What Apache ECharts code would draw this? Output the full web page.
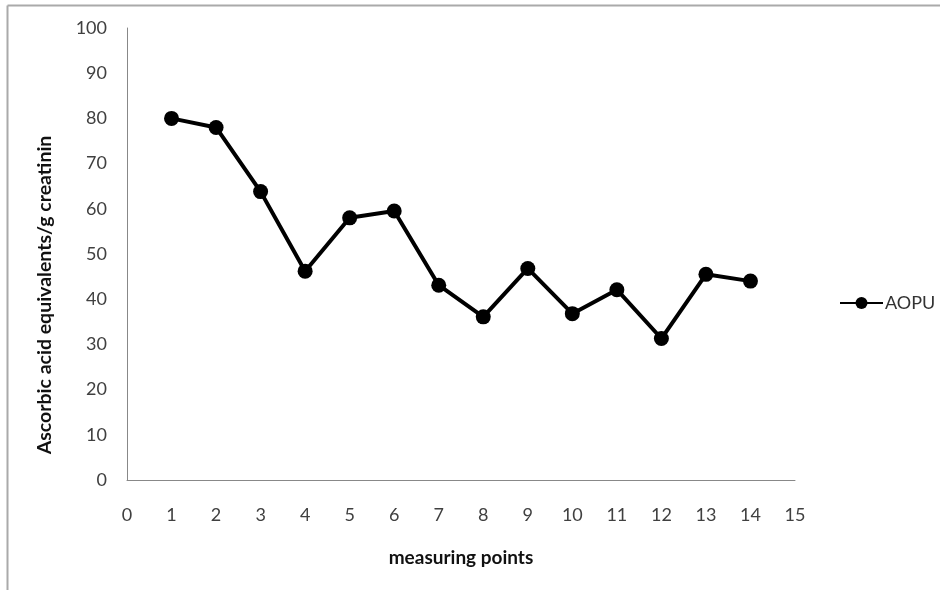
<!DOCTYPE html>
<html>
<head>
<meta charset="utf-8">
<script src="https://cdn.jsdelivr.net/npm/echarts@6/dist/echarts.min.js"></script>
<style>
html,body{margin:0;padding:0;background:#fff;}
#c{width:940px;height:590px;}
</style>
</head>
<body>
<div id="c"></div>
<script>
var seriesName = 'AOPU';
var xValues = [1,2,3,4,5,6,7,8,9,10,11,12,13,14];
var aopu = [80,78,63.8,46.2,58,59.5,43.1,36.1,46.8,36.8,42.1,31.3,45.5,44];
var xTitle = 'measuring points';
var yTitle = 'Ascorbic acid equivalents/g creatinin';

var FONT = 'Lato';
var chart = echarts.init(document.getElementById('c'), null, {renderer:'canvas'});
chart.setOption({
  backgroundColor:'#fff',
  animation:false,
  textStyle:{fontFamily:FONT},
  grid:{left:127,right:145,top:28,bottom:110,containLabel:false},
  legend:{
    data:[seriesName], left:834, top:289, orient:'vertical',
    itemWidth:43, itemHeight:15, itemGap:4,
    textStyle:{fontFamily:FONT,fontSize:18,color:'#333',padding:[0,0,0,-3]}
  },
  xAxis:{
    type:'value', min:0, max:15, interval:1,
    axisLine:{show:true,lineStyle:{color:'#888',width:1}},
    axisTick:{show:false},
    splitLine:{show:false},
    axisLabel:{fontFamily:FONT,fontSize:18,color:'#404040',margin:26},
    name:xTitle, nameLocation:'middle', nameGap:68,
    nameTextStyle:{fontFamily:FONT,fontSize:19,fontWeight:'bold',color:'#111'}
  },
  yAxis:{
    type:'value', min:0, max:100, interval:10,
    axisLine:{show:true,lineStyle:{color:'#888',width:1}},
    axisTick:{show:false},
    splitLine:{show:false},
    axisLabel:{fontFamily:FONT,fontSize:18,color:'#404040',margin:20}
  },
  graphic:[
    {type:'line',shape:{x1:7.5,y1:5.5,x2:940,y2:5.5},style:{stroke:'#aaa',lineWidth:2}},
    {type:'line',shape:{x1:7.5,y1:5.5,x2:7.5,y2:590},style:{stroke:'#aaa',lineWidth:2}},
    {type:'text',x:45,y:295,rotation:Math.PI/2,
     style:{text:yTitle,fontFamily:FONT,fontSize:19.5,fontWeight:'bold',fill:'#111',align:'center',verticalAlign:'middle'}}
  ],
  series:[{
    name:seriesName, type:'line',
    data:xValues.map(function(x,i){return [x,aopu[i]];}),
    symbol:'circle', symbolSize:15,
    itemStyle:{color:'#000'},
    lineStyle:{color:'#000',width:4}
  }]
});
</script>
</body>
</html>
